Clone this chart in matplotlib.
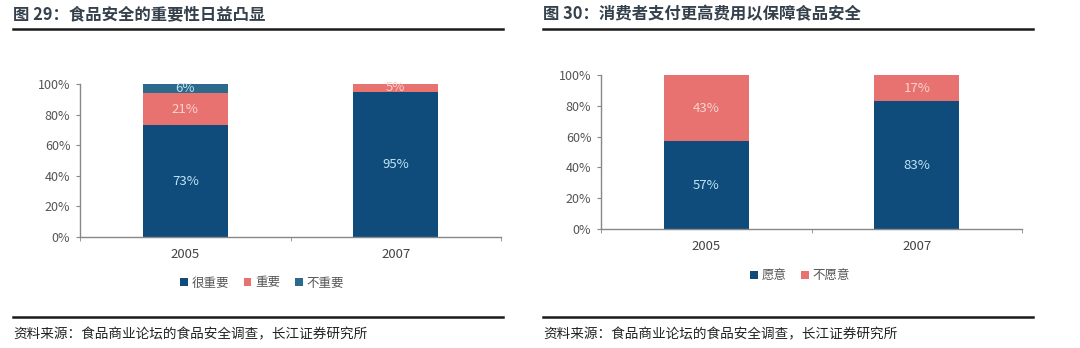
import matplotlib
matplotlib.use("Agg")
import matplotlib.pyplot as plt
from matplotlib.lines import Line2D
from matplotlib.ticker import FuncFormatter

plt.rcParams["font.family"] = ["Noto Sans CJK SC", "DejaVu Sans"]

# --- data ---
years = ["2005", "2007"]
very_important = [73, 95]
important = [21, 5]
not_important = [6, 0]
willing = [57, 83]
unwilling = [43, 17]

title_left = "图 29：食品安全的重要性日益凸显"
title_right = "图 30：消费者支付更高费用以保障食品安全"
source = "资料来源：食品商业论坛的食品安全调查，长江证券研究所"

BLUE = "#0f4c7c"
PINK = "#e8726f"
TEAL = "#2b6a8c"
W, H = 1080, 348


def fx(px):
    return px / W


def fy(py):
    return 1 - py / H


fig = plt.figure(figsize=(W / 100, H / 100), dpi=100)
fig.patch.set_facecolor("white")


def frame(x0, x1, title):
    fig.text(fx(x0), fy(14), title, fontsize=11.8, fontweight="bold",
             color="#34404c", va="center", ha="left")
    fig.add_artist(Line2D([fx(x0), fx(x1)], [fy(29), fy(29)], color="#1a1a1a", lw=1.8))
    fig.add_artist(Line2D([fx(x0), fx(x1)], [fy(317), fy(317)], color="#1a1a1a", lw=1.8))
    fig.text(fx(x0), fy(334), source, fontsize=9.8, color="#222222", va="center", ha="left")


def make_axes(left, right, top, bottom):
    ax = fig.add_axes([fx(left), fy(bottom), fx(right - left), (bottom - top) / H])
    ax.set_xlim(-0.5, 1.5)
    ax.set_ylim(0, 1)
    for s in ["top", "right"]:
        ax.spines[s].set_visible(False)
    for s in ["left", "bottom"]:
        ax.spines[s].set_color("#888888")
        ax.spines[s].set_linewidth(1.0)
    ax.set_yticks([0, 0.2, 0.4, 0.6, 0.8, 1.0])
    ax.yaxis.set_major_formatter(FuncFormatter(lambda v, p: f"{v * 100:.0f}%"))
    ax.set_xticks([0, 1])
    ax.set_xticklabels(years)
    ax.set_xticks([-0.5, 0.5, 1.5], minor=True)
    ax.tick_params(axis="x", which="major", length=0, pad=8, labelsize=9.5, labelcolor="#444444")
    ax.tick_params(axis="x", which="minor", length=3, color="#888888")
    ax.tick_params(axis="y", length=3, color="#888888", labelsize=9, labelcolor="#555555", pad=4)
    return ax


def stack(ax, series, colors, names, label_colors):
    bottom = [0.0] * len(years)
    handles = []
    for vals, c, n, lc in zip(series, colors, names, label_colors):
        h = [v / 100 for v in vals]
        bars = ax.bar(range(len(years)), h, bottom=bottom, width=0.405, color=c, label=n)
        handles.append(bars)
        for i, v in enumerate(vals):
            if v > 0:
                ax.text(i, bottom[i] + h[i] / 2, f"{v}%", ha="center", va="center",
                        fontsize=9.5, color=lc)
        bottom = [b + x for b, x in zip(bottom, h)]
    return handles


# left chart
frame(13, 503, title_left)
ax1 = make_axes(80, 501, 84, 237)
h1 = stack(ax1, [very_important, important, not_important], [BLUE, PINK, TEAL],
           ["很重要", "重要", "不重要"], ["#bfe4f4", "#f8d4d0", "#bfe4f4"])
fig.legend(handles=h1, loc="center", bbox_to_anchor=(fx(262), fy(283)), ncol=3,
           frameon=False, fontsize=9, handlelength=0.6, handleheight=0.6,
           handletextpad=0.3, columnspacing=1.2, labelcolor="#555555")

# right chart
frame(543, 1033, title_right)
ax2 = make_axes(601, 1022, 75, 229)
h2 = stack(ax2, [willing, unwilling], [BLUE, PINK],
           ["愿意", "不愿意"], ["#bfe4f4", "#f8d4d0"])
fig.legend(handles=h2, loc="center", bbox_to_anchor=(fx(800), fy(276)), ncol=2,
           frameon=False, fontsize=9, handlelength=0.6, handleheight=0.6,
           handletextpad=0.3, columnspacing=1.2, labelcolor="#555555")

fig.savefig("out.png", dpi=100, facecolor="white")
